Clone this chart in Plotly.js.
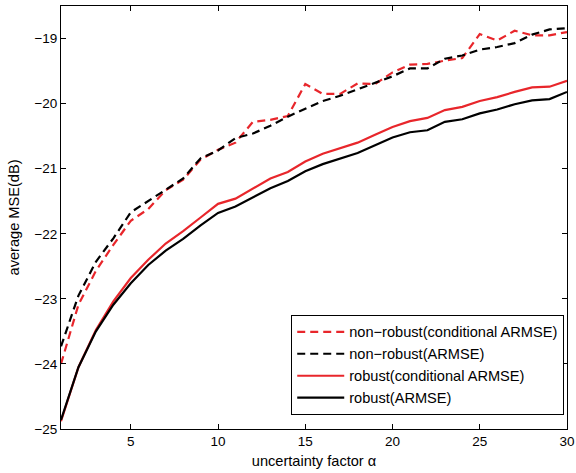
<!DOCTYPE html>
<html>
<head>
<meta charset="utf-8">
<script src="https://cdn.plot.ly/plotly-3.0.1.min.js"></script>
<style>html,body{margin:0;padding:0;background:#fff;}#chart{width:576px;height:473px;}</style>
</head>
<body>
<div id="chart"></div>
<script>
const alpha = [1,2,3,4,5,6,7,8,9,10,11,12,13,14,15,16,17,18,19,20,21,22,23,24,25,26,27,28,29,30];

const nonRobustCond = [-24.00,-23.09,-22.57,-22.17,-21.80,-21.62,-21.33,-21.17,-20.86,-20.71,
  -20.60,-20.28,-20.25,-20.19,-19.70,-19.85,-19.85,-19.69,-19.70,-19.52,
  -19.40,-19.39,-19.34,-19.30,-18.93,-19.03,-18.88,-18.95,-18.95,-18.90];

const nonRobustARMSE = [-23.73,-22.95,-22.43,-22.07,-21.67,-21.50,-21.32,-21.15,-20.84,-20.72,
  -20.53,-20.46,-20.34,-20.20,-20.08,-19.96,-19.88,-19.78,-19.68,-19.58,
  -19.46,-19.46,-19.31,-19.26,-19.17,-19.13,-19.07,-18.94,-18.86,-18.84];

const robustCond = [-24.88,-24.05,-23.48,-23.04,-22.68,-22.40,-22.15,-21.96,-21.75,-21.54,
  -21.46,-21.31,-21.15,-21.05,-20.89,-20.77,-20.68,-20.60,-20.48,-20.36,
  -20.27,-20.22,-20.10,-20.05,-19.96,-19.90,-19.82,-19.75,-19.74,-19.65];

const robustARMSE = [-24.86,-24.05,-23.50,-23.09,-22.76,-22.48,-22.26,-22.08,-21.87,-21.68,
  -21.58,-21.44,-21.30,-21.19,-21.04,-20.93,-20.84,-20.76,-20.64,-20.52,
  -20.44,-20.41,-20.28,-20.24,-20.15,-20.09,-20.01,-19.95,-19.93,-19.82];

const seriesNames = ['non\u2212robust(conditional ARMSE)','non\u2212robust(ARMSE)','robust(conditional ARMSE)','robust(ARMSE)'];
const xTicks = [5,10,15,20,25,30];
const yTicks = [-25,-24,-23,-22,-21,-20,-19];

const RED = '#e8262b', BLACK = '#000000';
const FAMILY = '"Liberation Sans", Arial, Helvetica, sans-serif';
const tickFont = {family: FAMILY, size: 13.5, color: '#000'};
const textFont = {family: FAMILY, size: 14.6, color: '#000'};

const traces = [
  {x: alpha, y: nonRobustCond, name: seriesNames[0], mode: 'lines', line: {color: RED, width: 2.2, dash: '8px,5px'}},
  {x: alpha, y: nonRobustARMSE, name: seriesNames[1], mode: 'lines', line: {color: BLACK, width: 2.2, dash: '8px,5px'}},
  {x: alpha, y: robustCond, name: seriesNames[2], mode: 'lines', line: {color: RED, width: 2.2}},
  {x: alpha, y: robustARMSE, name: seriesNames[3], mode: 'lines', line: {color: BLACK, width: 2.2}}
];

const axisCommon = {
  showgrid: false, zeroline: false, showline: true, linecolor: '#000', linewidth: 1,
  mirror: 'ticks', ticks: 'inside', ticklen: 5, tickcolor: '#000', tickwidth: 1,
  tickfont: tickFont
};

const layout = {
  width: 576, height: 473,
  margin: {l: 61, r: 9, t: 6, b: 44},
  paper_bgcolor: '#fff', plot_bgcolor: '#fff',
  font: textFont,
  showlegend: true,
  xaxis: Object.assign({}, axisCommon, {
    range: [1, 30], tickvals: xTicks, ticktext: xTicks.map(String),
    title: {text: 'uncertainty factor \u03b1', font: textFont, standoff: 7}
  }),
  yaxis: Object.assign({}, axisCommon, {
    range: [-25, -18.5], tickvals: yTicks, ticktext: yTicks.map(v => '\u2212' + Math.abs(v)),
    title: {text: 'average MSE(dB)', font: textFont, standoff: 11}
  }),
  legend: {
    x: 0.455, y: 0.27, xanchor: 'left', yanchor: 'top',
    bordercolor: '#000', borderwidth: 1, bgcolor: '#fff',
    font: textFont, itemwidth: 47, tracegroupgap: 0
  }
};

Plotly.newPlot('chart', traces, layout, {displayModeBar: false, staticPlot: true});
</script>
</body>
</html>
